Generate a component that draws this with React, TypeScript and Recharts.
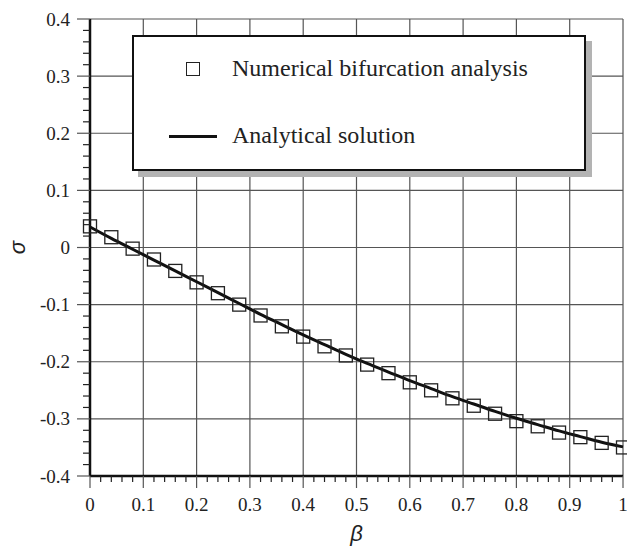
import { ComposedChart, Line, XAxis, YAxis, ReferenceLine } from 'recharts'

const beta = [
  0, 0.04, 0.08, 0.12, 0.16, 0.2, 0.24, 0.28, 0.32, 0.36, 0.4, 0.44, 0.48,
  0.52, 0.56, 0.6, 0.64, 0.68, 0.72, 0.76, 0.8, 0.84, 0.88, 0.92, 0.96, 1.0,
]
const numerical = [
  0.037, 0.018, -0.002, -0.021, -0.041, -0.061, -0.08, -0.1, -0.119, -0.138,
  -0.156, -0.173, -0.189, -0.205, -0.22, -0.236, -0.25, -0.264, -0.277,
  -0.291, -0.304, -0.313, -0.324, -0.332, -0.342, -0.35,
]
const analytical = [
  0.036, 0.016, -0.003, -0.022, -0.041, -0.06, -0.079, -0.098, -0.117, -0.135,
  -0.153, -0.17, -0.187, -0.203, -0.218, -0.233, -0.247, -0.261, -0.274,
  -0.287, -0.299, -0.31, -0.321, -0.331, -0.341, -0.349,
]

const xMajor = [0, 0.1, 0.2, 0.3, 0.4, 0.5, 0.6, 0.7, 0.8, 0.9, 1]
const yMajor = [-0.4, -0.3, -0.2, -0.1, 0, 0.1, 0.2, 0.3, 0.4]

// 4 minor ticks between every pair of majors
const withMinor = (major: number[]) => {
  const out: number[] = []
  major.forEach((v, i) => {
    out.push(v)
    if (i < major.length - 1) {
      for (let k = 1; k < 5; k++) out.push(+(v + (k * (major[i + 1] - v)) / 5).toFixed(4))
    }
  })
  return out
}
const xTicks = withMinor(xMajor)
const yTicks = withMinor(yMajor)

const data = beta.map((b, i) => ({ beta: b, numerical: numerical[i], analytical: analytical[i] }))

const isMajor = (v: number) => Math.abs(v * 10 - Math.round(v * 10)) < 1e-6
const fmt = (v: number) => String(+v.toFixed(1))

const serif = '"Liberation Serif", "Times New Roman", serif'
const sans = '"Liberation Sans", Arial, sans-serif'

const YTick = (props: any) => {
  const { x, y, payload } = props
  const major = isMajor(payload.value)
  return (
    <g>
      <line x1={x - (major ? 13 : 7)} x2={x} y1={y} y2={y} stroke={major ? '#555' : '#222'} strokeWidth={1.2} />
      {major && (
        <text x={x - 20} y={y} dy={6.5} textAnchor="end" fontFamily={serif} fontSize={19} fill="#222">
          {fmt(payload.value)}
        </text>
      )}
    </g>
  )
}

const XTick = (props: any) => {
  const { x, y, payload } = props
  const major = isMajor(payload.value)
  return (
    <g>
      <line x1={x} x2={x} y1={y} y2={y + (major ? 12 : 6)} stroke={major ? '#555' : '#222'} strokeWidth={1.2} />
      {major && (
        <text x={x} y={y + 35} textAnchor="middle" fontFamily={serif} fontSize={19} fill="#222">
          {fmt(payload.value)}
        </text>
      )}
    </g>
  )
}

const Square = (props: any) => {
  const { cx, cy, index } = props
  return (
    <rect key={index} x={cx - 6.5} y={cy - 6.5} width={13} height={13} fill="none" stroke="#222" strokeWidth={1.3} />
  )
}

const LegendBox = () => (
  <div
    style={{
      position: 'absolute',
      left: 132,
      top: 35,
      width: 454,
      height: 136,
      boxSizing: 'border-box',
      border: '2px solid #111',
      background: '#fff',
      boxShadow: '6px 6px 0 #b3b3b3',
      fontFamily: serif,
      fontSize: 24,
      color: '#222',
      whiteSpace: 'nowrap',
    }}
  >
    <div style={{ position: 'absolute', left: 52, top: 25, width: 12, height: 12, border: '1.5px solid #222' }} />
    <div style={{ position: 'absolute', left: 98, top: 17, lineHeight: '28px' }}>Numerical bifurcation analysis</div>
    <div style={{ position: 'absolute', left: 35, top: 98, width: 48, height: 3, background: '#111' }} />
    <div style={{ position: 'absolute', left: 98, top: 84, lineHeight: '28px' }}>Analytical solution</div>
  </div>
)

export default function App() {
  return (
    <div style={{ position: 'absolute', left: 0, top: 0, width: 627, height: 547, background: '#fff' }}>
      <ComposedChart width={627} height={547} data={data} margin={{ top: 19, right: 4, left: 0, bottom: 0 }}>
        {xMajor.filter((v) => v !== 0).map((v) => (
          <ReferenceLine key={'x' + v} x={v} stroke="#555" strokeWidth={1.2} />
        ))}
        {yMajor.filter((v) => v !== -0.4).map((v) => (
          <ReferenceLine key={'y' + v} y={v} stroke="#555" strokeWidth={1.2} />
        ))}
        <XAxis
          dataKey="beta"
          type="number"
          domain={[0, 1]}
          ticks={xTicks}
          interval={0}
          height={71}
          tickSize={0}
          tickMargin={0}
          tickLine={false}
          tick={<XTick />}
          axisLine={{ stroke: '#111', strokeWidth: 2.5 }}
          label={{
            content: (p: any) => {
              const vb = p.viewBox
              return (
                <text x={vb.x + vb.width / 2} y={vb.y + 65} textAnchor="middle" fontFamily={sans} fontStyle="italic" fontSize={22} fill="#222">
                  β
                </text>
              )
            },
          }}
        />
        <YAxis
          type="number"
          domain={[-0.4, 0.4]}
          ticks={yTicks}
          interval={0}
          width={90}
          tickSize={0}
          tickMargin={0}
          tickLine={false}
          tick={<YTick />}
          axisLine={{ stroke: '#111', strokeWidth: 2.5 }}
          label={{
            content: (p: any) => {
              const vb = p.viewBox
              const cx = vb.x + 18
              const cy = vb.y + vb.height / 2
              return (
                <text x={cx} y={cy} dy={7} textAnchor="middle" transform={`rotate(-90 ${cx} ${cy})`} fontFamily={sans} fontStyle="italic" fontSize={22} fill="#222">
                  σ
                </text>
              )
            },
          }}
        />
        <Line dataKey="numerical" stroke="none" dot={<Square />} activeDot={false} isAnimationActive={false} />
        <Line type="monotone" dataKey="analytical" stroke="#111" strokeWidth={3} dot={false} activeDot={false} isAnimationActive={false} />
      </ComposedChart>
      <LegendBox />
    </div>
  )
}
